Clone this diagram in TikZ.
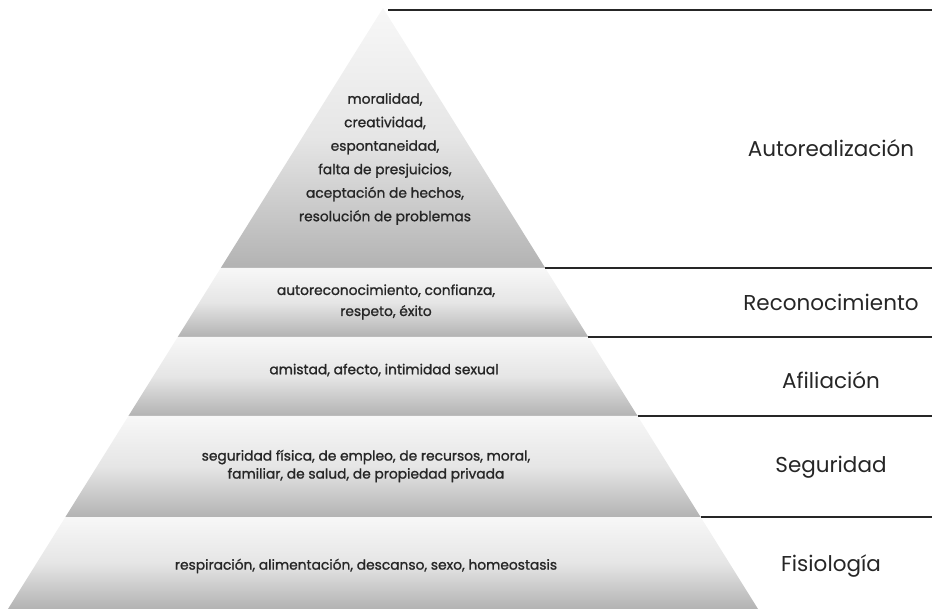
\documentclass[tikz,border=0pt]{standalone}
\usepackage{fontspec}
\setmainfont{Poppins}
\newfontfamily\needfont{Poppins}[FakeBold=1.2]
\usetikzlibrary{positioning}

\begin{document}
\begin{tikzpicture}[x=1pt, y=-1pt,
    band/.style={top color=black!3, bottom color=black!30, middle color=black!10},
    need/.style={font=\needfont\fontsize{13.8}{23.5}\selectfont, text=black!85, align=center, inner sep=0pt},
    level/.style={font=\fontsize{21.5}{24}\selectfont, text=black!85, inner sep=0pt},
    sep/.style={line width=2.2pt, black!85}]

    \useasboundingbox (0,0) rectangle (932,609);

    % Draw Pyramid
    \foreach \ya/\yb in {8/268, 268/337, 337/416, 416/517, 517/609}{
        \shade[band] ({383-(\ya-8)*0.624}, \ya) -- ({383+(\ya-8)*0.624}, \ya)
            -- ({383+(\yb-8)*0.624}, \yb) -- ({383-(\yb-8)*0.624}, \yb) -- cycle;
    }

    % Draw Separators
    \draw[sep] (388, 10) -- (932, 10);
    \foreach \y in {268, 337, 416, 517}{
        \draw[sep] ({383+(\y-8)*0.624}, \y) -- (932, \y);
    }

    % Add Needs
    \node[need] (moral) at (385, 159) {moralidad,\\ creatividad,\\ espontaneidad,\\ falta de presjuicios,\\ aceptación de hechos,\\ resolución de problemas};
    \node[need, font=\needfont\fontsize{13.8}{21}\selectfont] (estima) at (386, 302) {autoreconocimiento, confianza,\\ respeto, éxito};
    \node[need] (amistad) at (384, 370) {amistad, afecto, intimidad sexual};
    \node[need, font=\needfont\fontsize{13.8}{18}\selectfont] (empleo) at (366, 466) {seguridad física, de empleo, de recursos, moral,\\ familiar, de salud, de propiedad privada};
    \node[need] (cuerpo) at (366, 566) {respiración, alimentación, descanso, sexo, homeostasis};

    % Add Levels
    \node[level] (autorealizacion) at (831, 148) {Autorealización};
    \node[level] (reconocimiento) at (831, 302) {Reconocimiento};
    \node[level] (afiliacion) at (831, 380) {Afiliación};
    \node[level] (seguridad) at (831, 467) {Seguridad};
    \node[level] (fisiologia) at (831, 566) {Fisiología};
\end{tikzpicture}
\end{document}
